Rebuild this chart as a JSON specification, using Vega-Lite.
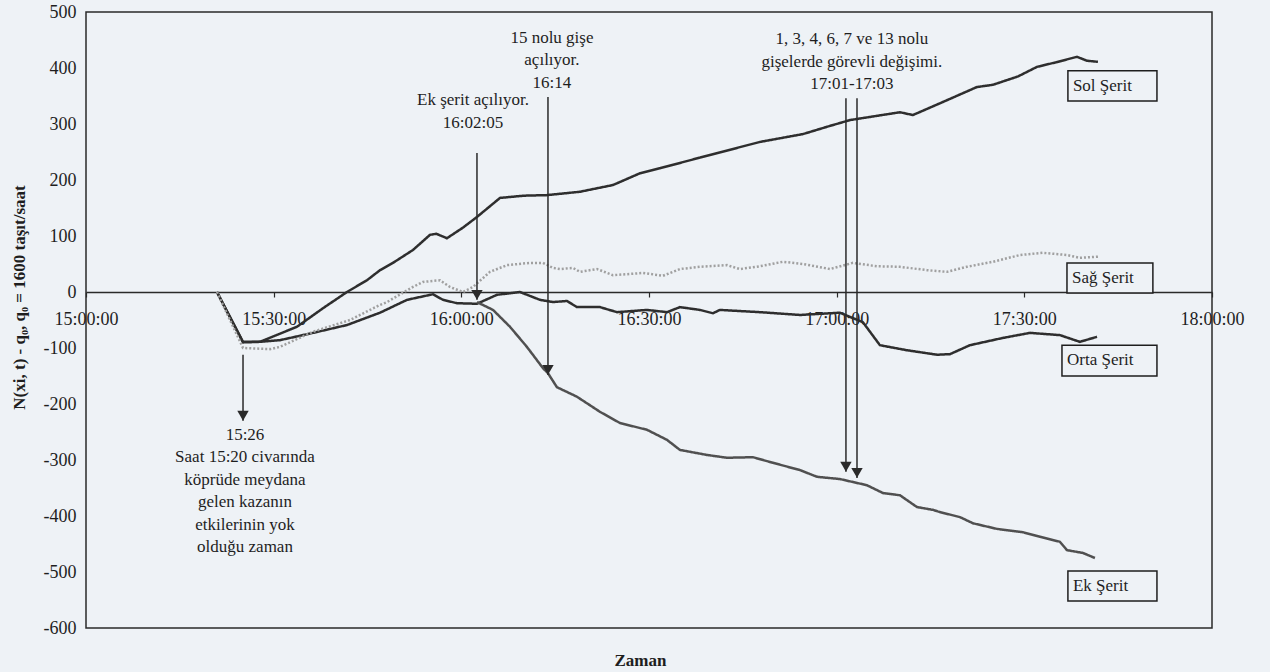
{
  "$schema": "https://vega.github.io/schema/vega-lite/v6.json",
  "width": 1126,
  "height": 616,
  "autosize": "none",
  "padding": {"left": 86, "top": 12, "right": 58, "bottom": 44},
  "background": "#eef2f6",
  "config": {
    "font": "Liberation Serif",
    "view": {"stroke": "#2a2a2a", "strokeWidth": 1.5, "fill": "#eef2f6"}
  },
  "layer": [
    {
      "data": {"format": {"parse": {"zaman": "date"}}, "values": [
      {"seri": "Sol Şerit", "zaman": "2002-01-01T15:20:56", "deger": 0},
      {"seri": "Sol Şerit", "zaman": "2002-01-01T15:25:06", "deger": -90},
      {"seri": "Sol Şerit", "zaman": "2002-01-01T15:27:49", "deger": -89},
      {"seri": "Sol Şerit", "zaman": "2002-01-01T15:30:40", "deger": -76},
      {"seri": "Sol Şerit", "zaman": "2002-01-01T15:33:44", "deger": -62},
      {"seri": "Sol Şerit", "zaman": "2002-01-01T15:37:53", "deger": -29},
      {"seri": "Sol Şerit", "zaman": "2002-01-01T15:41:43", "deger": 0},
      {"seri": "Sol Şerit", "zaman": "2002-01-01T15:44:55", "deger": 21},
      {"seri": "Sol Şerit", "zaman": "2002-01-01T15:47:00", "deger": 39},
      {"seri": "Sol Şerit", "zaman": "2002-01-01T15:49:04", "deger": 52},
      {"seri": "Sol Şerit", "zaman": "2002-01-01T15:52:16", "deger": 75},
      {"seri": "Sol Şerit", "zaman": "2002-01-01T15:54:59", "deger": 102},
      {"seri": "Sol Şerit", "zaman": "2002-01-01T15:56:00", "deger": 104},
      {"seri": "Sol Şerit", "zaman": "2002-01-01T15:57:42", "deger": 96},
      {"seri": "Sol Şerit", "zaman": "2002-01-01T16:00:16", "deger": 115},
      {"seri": "Sol Şerit", "zaman": "2002-01-01T16:02:30", "deger": 134},
      {"seri": "Sol Şerit", "zaman": "2002-01-01T16:06:11", "deger": 168},
      {"seri": "Sol Şerit", "zaman": "2002-01-01T16:10:00", "deger": 172},
      {"seri": "Sol Şerit", "zaman": "2002-01-01T16:13:41", "deger": 173},
      {"seri": "Sol Şerit", "zaman": "2002-01-01T16:18:58", "deger": 179},
      {"seri": "Sol Şerit", "zaman": "2002-01-01T16:24:14", "deger": 191},
      {"seri": "Sol Şerit", "zaman": "2002-01-01T16:28:33", "deger": 212},
      {"seri": "Sol Şerit", "zaman": "2002-01-01T16:31:45", "deger": 221},
      {"seri": "Sol Şerit", "zaman": "2002-01-01T16:38:09", "deger": 240},
      {"seri": "Sol Şerit", "zaman": "2002-01-01T16:47:44", "deger": 268},
      {"seri": "Sol Şerit", "zaman": "2002-01-01T16:54:37", "deger": 282},
      {"seri": "Sol Şerit", "zaman": "2002-01-01T16:58:27", "deger": 295},
      {"seri": "Sol Şerit", "zaman": "2002-01-01T17:02:07", "deger": 307},
      {"seri": "Sol Şerit", "zaman": "2002-01-01T17:10:07", "deger": 321},
      {"seri": "Sol Şerit", "zaman": "2002-01-01T17:12:11", "deger": 316},
      {"seri": "Sol Şerit", "zaman": "2002-01-01T17:16:31", "deger": 337},
      {"seri": "Sol Şerit", "zaman": "2002-01-01T17:22:25", "deger": 366},
      {"seri": "Sol Şerit", "zaman": "2002-01-01T17:24:59", "deger": 370},
      {"seri": "Sol Şerit", "zaman": "2002-01-01T17:29:00", "deger": 385},
      {"seri": "Sol Şerit", "zaman": "2002-01-01T17:32:01", "deger": 402},
      {"seri": "Sol Şerit", "zaman": "2002-01-01T17:35:00", "deger": 410},
      {"seri": "Sol Şerit", "zaman": "2002-01-01T17:38:25", "deger": 420},
      {"seri": "Sol Şerit", "zaman": "2002-01-01T17:40:00", "deger": 413},
      {"seri": "Sol Şerit", "zaman": "2002-01-01T17:41:46", "deger": 411},

      {"seri": "Orta Şerit", "zaman": "2002-01-01T15:20:56", "deger": 0},
      {"seri": "Orta Şerit", "zaman": "2002-01-01T15:25:06", "deger": -89},
      {"seri": "Orta Şerit", "zaman": "2002-01-01T15:27:49", "deger": -89},
      {"seri": "Orta Şerit", "zaman": "2002-01-01T15:31:01", "deger": -86},
      {"seri": "Orta Şerit", "zaman": "2002-01-01T15:36:17", "deger": -73},
      {"seri": "Orta Şerit", "zaman": "2002-01-01T15:41:43", "deger": -59},
      {"seri": "Orta Şerit", "zaman": "2002-01-01T15:47:00", "deger": -37},
      {"seri": "Orta Şerit", "zaman": "2002-01-01T15:51:19", "deger": -14},
      {"seri": "Orta Şerit", "zaman": "2002-01-01T15:55:28", "deger": -4},
      {"seri": "Orta Şerit", "zaman": "2002-01-01T15:57:04", "deger": -14},
      {"seri": "Orta Şerit", "zaman": "2002-01-01T15:59:18", "deger": -20},
      {"seri": "Orta Şerit", "zaman": "2002-01-01T16:02:30", "deger": -21},
      {"seri": "Orta Şerit", "zaman": "2002-01-01T16:05:42", "deger": -5},
      {"seri": "Orta Şerit", "zaman": "2002-01-01T16:09:22", "deger": 0},
      {"seri": "Orta Şerit", "zaman": "2002-01-01T16:12:34", "deger": -14},
      {"seri": "Orta Şerit", "zaman": "2002-01-01T16:14:39", "deger": -18},
      {"seri": "Orta Şerit", "zaman": "2002-01-01T16:16:53", "deger": -16},
      {"seri": "Orta Şerit", "zaman": "2002-01-01T16:18:29", "deger": -27},
      {"seri": "Orta Şerit", "zaman": "2002-01-01T16:22:10", "deger": -27},
      {"seri": "Orta Şerit", "zaman": "2002-01-01T16:24:53", "deger": -36},
      {"seri": "Orta Şerit", "zaman": "2002-01-01T16:29:40", "deger": -32},
      {"seri": "Orta Şerit", "zaman": "2002-01-01T16:32:52", "deger": -36},
      {"seri": "Orta Şerit", "zaman": "2002-01-01T16:34:57", "deger": -27},
      {"seri": "Orta Şerit", "zaman": "2002-01-01T16:38:09", "deger": -32},
      {"seri": "Orta Şerit", "zaman": "2002-01-01T16:40:13", "deger": -38},
      {"seri": "Orta Şerit", "zaman": "2002-01-01T16:41:20", "deger": -32},
      {"seri": "Orta Şerit", "zaman": "2002-01-01T16:47:44", "deger": -36},
      {"seri": "Orta Şerit", "zaman": "2002-01-01T16:54:08", "deger": -41},
      {"seri": "Orta Şerit", "zaman": "2002-01-01T17:00:31", "deger": -37},
      {"seri": "Orta Şerit", "zaman": "2002-01-01T17:04:12", "deger": -54},
      {"seri": "Orta Şerit", "zaman": "2002-01-01T17:06:55", "deger": -95},
      {"seri": "Orta Şerit", "zaman": "2002-01-01T17:11:14", "deger": -104},
      {"seri": "Orta Şerit", "zaman": "2002-01-01T17:16:02", "deger": -112},
      {"seri": "Orta Şerit", "zaman": "2002-01-01T17:18:07", "deger": -111},
      {"seri": "Orta Şerit", "zaman": "2002-01-01T17:21:18", "deger": -95},
      {"seri": "Orta Şerit", "zaman": "2002-01-01T17:26:35", "deger": -82},
      {"seri": "Orta Şerit", "zaman": "2002-01-01T17:30:54", "deger": -73},
      {"seri": "Orta Şerit", "zaman": "2002-01-01T17:35:41", "deger": -77},
      {"seri": "Orta Şerit", "zaman": "2002-01-01T17:38:53", "deger": -89},
      {"seri": "Orta Şerit", "zaman": "2002-01-01T17:41:37", "deger": -80},

      {"seri": "Sağ Şerit", "zaman": "2002-01-01T15:20:56", "deger": 0},
      {"seri": "Sağ Şerit", "zaman": "2002-01-01T15:25:06", "deger": -100},
      {"seri": "Sağ Şerit", "zaman": "2002-01-01T15:29:25", "deger": -102},
      {"seri": "Sağ Şerit", "zaman": "2002-01-01T15:31:01", "deger": -98},
      {"seri": "Sağ Şerit", "zaman": "2002-01-01T15:36:17", "deger": -71},
      {"seri": "Sağ Şerit", "zaman": "2002-01-01T15:42:12", "deger": -50},
      {"seri": "Sağ Şerit", "zaman": "2002-01-01T15:47:00", "deger": -23},
      {"seri": "Sağ Şerit", "zaman": "2002-01-01T15:48:07", "deger": -18},
      {"seri": "Sağ Şerit", "zaman": "2002-01-01T15:52:16", "deger": 9},
      {"seri": "Sağ Şerit", "zaman": "2002-01-01T15:53:52", "deger": 18},
      {"seri": "Sağ Şerit", "zaman": "2002-01-01T15:56:35", "deger": 21},
      {"seri": "Sağ Şerit", "zaman": "2002-01-01T15:58:11", "deger": 9},
      {"seri": "Sağ Şerit", "zaman": "2002-01-01T16:00:16", "deger": 0},
      {"seri": "Sağ Şerit", "zaman": "2002-01-01T16:01:52", "deger": 9},
      {"seri": "Sağ Şerit", "zaman": "2002-01-01T16:04:35", "deger": 36},
      {"seri": "Sağ Şerit", "zaman": "2002-01-01T16:07:18", "deger": 48},
      {"seri": "Sağ Şerit", "zaman": "2002-01-01T16:10:58", "deger": 52},
      {"seri": "Sağ Şerit", "zaman": "2002-01-01T16:13:03", "deger": 52},
      {"seri": "Sağ Şerit", "zaman": "2002-01-01T16:14:39", "deger": 43},
      {"seri": "Sağ Şerit", "zaman": "2002-01-01T16:15:46", "deger": 41},
      {"seri": "Sağ Şerit", "zaman": "2002-01-01T16:17:51", "deger": 43},
      {"seri": "Sağ Şerit", "zaman": "2002-01-01T16:18:58", "deger": 36},
      {"seri": "Sağ Şerit", "zaman": "2002-01-01T16:21:41", "deger": 41},
      {"seri": "Sağ Şerit", "zaman": "2002-01-01T16:24:14", "deger": 30},
      {"seri": "Sağ Şerit", "zaman": "2002-01-01T16:29:02", "deger": 34},
      {"seri": "Sağ Şerit", "zaman": "2002-01-01T16:32:14", "deger": 29},
      {"seri": "Sağ Şerit", "zaman": "2002-01-01T16:34:57", "deger": 41},
      {"seri": "Sağ Şerit", "zaman": "2002-01-01T16:38:09", "deger": 45},
      {"seri": "Sağ Şerit", "zaman": "2002-01-01T16:42:28", "deger": 48},
      {"seri": "Sağ Şerit", "zaman": "2002-01-01T16:44:32", "deger": 41},
      {"seri": "Sağ Şerit", "zaman": "2002-01-01T16:47:44", "deger": 46},
      {"seri": "Sağ Şerit", "zaman": "2002-01-01T16:51:25", "deger": 54},
      {"seri": "Sağ Şerit", "zaman": "2002-01-01T16:54:37", "deger": 50},
      {"seri": "Sağ Şerit", "zaman": "2002-01-01T16:58:56", "deger": 41},
      {"seri": "Sağ Şerit", "zaman": "2002-01-01T17:02:36", "deger": 52},
      {"seri": "Sağ Şerit", "zaman": "2002-01-01T17:06:26", "deger": 46},
      {"seri": "Sağ Şerit", "zaman": "2002-01-01T17:10:07", "deger": 45},
      {"seri": "Sağ Şerit", "zaman": "2002-01-01T17:14:26", "deger": 39},
      {"seri": "Sağ Şerit", "zaman": "2002-01-01T17:17:38", "deger": 36},
      {"seri": "Sağ Şerit", "zaman": "2002-01-01T17:20:49", "deger": 45},
      {"seri": "Sağ Şerit", "zaman": "2002-01-01T17:24:59", "deger": 54},
      {"seri": "Sağ Şerit", "zaman": "2002-01-01T17:29:18", "deger": 66},
      {"seri": "Sağ Şerit", "zaman": "2002-01-01T17:32:58", "deger": 70},
      {"seri": "Sağ Şerit", "zaman": "2002-01-01T17:36:49", "deger": 66},
      {"seri": "Sağ Şerit", "zaman": "2002-01-01T17:38:53", "deger": 61},
      {"seri": "Sağ Şerit", "zaman": "2002-01-01T17:41:46", "deger": 63},

      {"seri": "Ek Şerit", "zaman": "2002-01-01T16:02:30", "deger": -18},
      {"seri": "Ek Şerit", "zaman": "2002-01-01T16:05:04", "deger": -32},
      {"seri": "Ek Şerit", "zaman": "2002-01-01T16:07:46", "deger": -62},
      {"seri": "Ek Şerit", "zaman": "2002-01-01T16:10:29", "deger": -98},
      {"seri": "Ek Şerit", "zaman": "2002-01-01T16:13:03", "deger": -136},
      {"seri": "Ek Şerit", "zaman": "2002-01-01T16:13:51", "deger": -145},
      {"seri": "Ek Şerit", "zaman": "2002-01-01T16:15:17", "deger": -170},
      {"seri": "Ek Şerit", "zaman": "2002-01-01T16:18:29", "deger": -187},
      {"seri": "Ek Şerit", "zaman": "2002-01-01T16:22:10", "deger": -214},
      {"seri": "Ek Şerit", "zaman": "2002-01-01T16:25:22", "deger": -234},
      {"seri": "Ek Şerit", "zaman": "2002-01-01T16:29:40", "deger": -246},
      {"seri": "Ek Şerit", "zaman": "2002-01-01T16:32:52", "deger": -264},
      {"seri": "Ek Şerit", "zaman": "2002-01-01T16:34:57", "deger": -282},
      {"seri": "Ek Şerit", "zaman": "2002-01-01T16:39:16", "deger": -291},
      {"seri": "Ek Şerit", "zaman": "2002-01-01T16:42:28", "deger": -296},
      {"seri": "Ek Şerit", "zaman": "2002-01-01T16:46:37", "deger": -295},
      {"seri": "Ek Şerit", "zaman": "2002-01-01T16:49:49", "deger": -305},
      {"seri": "Ek Şerit", "zaman": "2002-01-01T16:54:08", "deger": -318},
      {"seri": "Ek Şerit", "zaman": "2002-01-01T16:56:51", "deger": -330},
      {"seri": "Ek Şerit", "zaman": "2002-01-01T17:00:31", "deger": -334},
      {"seri": "Ek Şerit", "zaman": "2002-01-01T17:04:50", "deger": -345},
      {"seri": "Ek Şerit", "zaman": "2002-01-01T17:07:24", "deger": -359},
      {"seri": "Ek Şerit", "zaman": "2002-01-01T17:10:07", "deger": -363},
      {"seri": "Ek Şerit", "zaman": "2002-01-01T17:12:50", "deger": -384},
      {"seri": "Ek Şerit", "zaman": "2002-01-01T17:15:23", "deger": -389},
      {"seri": "Ek Şerit", "zaman": "2002-01-01T17:16:31", "deger": -393},
      {"seri": "Ek Şerit", "zaman": "2002-01-01T17:19:43", "deger": -402},
      {"seri": "Ek Şerit", "zaman": "2002-01-01T17:21:47", "deger": -413},
      {"seri": "Ek Şerit", "zaman": "2002-01-01T17:25:37", "deger": -423},
      {"seri": "Ek Şerit", "zaman": "2002-01-01T17:29:47", "deger": -429},
      {"seri": "Ek Şerit", "zaman": "2002-01-01T17:32:29", "deger": -437},
      {"seri": "Ek Şerit", "zaman": "2002-01-01T17:35:41", "deger": -446},
      {"seri": "Ek Şerit", "zaman": "2002-01-01T17:36:49", "deger": -461},
      {"seri": "Ek Şerit", "zaman": "2002-01-01T17:39:22", "deger": -466},
      {"seri": "Ek Şerit", "zaman": "2002-01-01T17:41:17", "deger": -475}
      ]},
      "mark": {"type": "line", "interpolate": "linear"},
      "encoding": {
        "x": {
          "field": "zaman", "type": "temporal", "title": "Zaman",
          "scale": {"domain": [{"year": 2002, "month": 1, "date": 1, "hours": 15}, {"year": 2002, "month": 1, "date": 1, "hours": 18}], "nice": false},
          "axis": {
            "values": [
              {"year": 2002, "month": 1, "date": 1, "hours": 15, "minutes": 0},
              {"year": 2002, "month": 1, "date": 1, "hours": 15, "minutes": 30},
              {"year": 2002, "month": 1, "date": 1, "hours": 16, "minutes": 0},
              {"year": 2002, "month": 1, "date": 1, "hours": 16, "minutes": 30},
              {"year": 2002, "month": 1, "date": 1, "hours": 17, "minutes": 0},
              {"year": 2002, "month": 1, "date": 1, "hours": 17, "minutes": 30},
              {"year": 2002, "month": 1, "date": 1, "hours": 18, "minutes": 0}
            ],
            "format": "%H:%M:%S",
            "offset": -336,
            "grid": false,
            "domainColor": "#2a2a2a", "domainWidth": 1.5,
            "tickColor": "#2a2a2a", "tickSize": 5, "tickWidth": 1.2,
            "labelFont": "Liberation Serif", "labelFontSize": 18, "labelColor": "#1e1e1e",
            "labelPadding": 13, "labelFlush": false, "labelOverlap": false,
            "titleFont": "Liberation Serif", "titleFontSize": 17, "titleFontWeight": "bold", "titleColor": "#1e1e1e",
            "titleY": 368, "titleX": 554, "titleBaseline": "middle"
          }
        },
        "y": {
          "field": "deger", "type": "quantitative",
          "title": "N(xi, t) - q₀, q₀ = 1600 taşıt/saat",
          "scale": {"domain": [-600, 500], "nice": false, "zero": false},
          "axis": {
            "values": [-600, -500, -400, -300, -200, -100, 0, 100, 200, 300, 400, 500],
            "labelExpr": "toString(datum.value)",
            "grid": false, "domain": false, "ticks": false,
            "labelFont": "Liberation Serif", "labelFontSize": 18, "labelColor": "#1e1e1e", "labelPadding": 10,
            "titleFont": "Liberation Serif", "titleFontSize": 17, "titleFontWeight": "bold", "titleColor": "#1e1e1e",
            "titleX": -67, "titleY": 285, "titleBaseline": "middle", "titleAlign": "center"
          }
        },
        "color": {"field": "seri", "type": "nominal", "legend": null,
          "scale": {"domain": ["Sol Şerit", "Orta Şerit", "Sağ Şerit", "Ek Şerit"], "range": ["#2e2e2e", "#2e2e2e", "#a0a0a0", "#505050"]}},
        "strokeWidth": {"field": "seri", "type": "nominal", "legend": null,
          "scale": {"domain": ["Sol Şerit", "Orta Şerit", "Sağ Şerit", "Ek Şerit"], "range": [2.5, 2.5, 1, 1.2]}},
        "strokeDash": {"field": "seri", "type": "nominal", "legend": null,
          "scale": {"domain": ["Sol Şerit", "Orta Şerit", "Sağ Şerit", "Ek Şerit"], "range": [[1, 0], [1, 0], [2, 2], [1, 0]]}}
      }
    },
    {
      "data": {"format": {"parse": {"zaman": "date"}}, "values": [
        {"zaman": "2002-01-01T15:25:06", "ust": -112, "alt": -230},
        {"zaman": "2002-01-01T16:02:30", "ust": 248, "alt": -14},
        {"zaman": "2002-01-01T16:13:51", "ust": 348, "alt": -148},
        {"zaman": "2002-01-01T17:01:29", "ust": 346, "alt": -321},
        {"zaman": "2002-01-01T17:03:15", "ust": 346, "alt": -332}
      ]},
      "mark": {"type": "rule", "color": "#2a2a2a", "strokeWidth": 1.5},
      "encoding": {
        "x": {"field": "zaman", "type": "temporal"},
        "y": {"field": "ust", "type": "quantitative"},
        "y2": {"field": "alt"}
      }
    },
    {
      "data": {"format": {"parse": {"zaman": "date"}}, "values": [
        {"zaman": "2002-01-01T15:25:06", "uc": -230},
        {"zaman": "2002-01-01T16:02:30", "uc": -14},
        {"zaman": "2002-01-01T16:13:51", "uc": -148},
        {"zaman": "2002-01-01T17:01:29", "uc": -321},
        {"zaman": "2002-01-01T17:03:15", "uc": -332}
      ]},
      "mark": {"type": "point", "shape": "triangle-down", "filled": true, "color": "#2a2a2a", "opacity": 1, "size": 130, "yOffset": -5},
      "encoding": {
        "x": {"field": "zaman", "type": "temporal"},
        "y": {"field": "uc", "type": "quantitative"}
      }
    },
    {
      "data": {"format": {"parse": {"zaman": "date"}}, "values": [
        {"zaman": "2002-01-01T15:25:25", "deger": -241, "metin": "15:26\nSaat 15:20 civarında\nköprüde meydana\ngelen kazanın\netkilerinin yok\nolduğu zaman"},
        {"zaman": "2002-01-01T16:01:52", "deger": 357, "metin": "Ek şerit açılıyor.\n16:02:05"},
        {"zaman": "2002-01-01T16:14:29", "deger": 468, "metin": "15 nolu gişe\naçılıyor.\n16:14"},
        {"zaman": "2002-01-01T17:02:26", "deger": 466, "metin": "1, 3, 4, 6, 7 ve 13 nolu\ngişelerde görevli değişimi.\n17:01-17:03"}
      ]},
      "mark": {"type": "text", "align": "center", "baseline": "top", "lineBreak": "\n", "lineHeight": 22.5, "font": "Liberation Serif", "fontSize": 17, "color": "#1e1e1e"},
      "encoding": {
        "x": {"field": "zaman", "type": "temporal"},
        "y": {"field": "deger", "type": "quantitative"},
        "text": {"field": "metin", "type": "nominal"}
      }
    },
    {
      "data": {"format": {"parse": {"t1": "date", "t2": "date"}}, "values": [
        {"etiket": "Sol Şerit", "t1": "2002-01-01T17:36:58", "t2": "2002-01-01T17:51:12", "y1": 395, "y2": 341},
        {"etiket": "Sağ Şerit", "t1": "2002-01-01T17:36:49", "t2": "2002-01-01T17:50:33", "y1": 52, "y2": -2},
        {"etiket": "Orta Şerit", "t1": "2002-01-01T17:36:01", "t2": "2002-01-01T17:51:12", "y1": -95, "y2": -150},
        {"etiket": "Ek Şerit", "t1": "2002-01-01T17:36:58", "t2": "2002-01-01T17:51:12", "y1": -498, "y2": -552}
      ]},
      "mark": {"type": "rect", "fill": "#eef2f6", "stroke": "#1e1e1e", "strokeWidth": 1.5},
      "encoding": {
        "x": {"field": "t1", "type": "temporal"},
        "x2": {"field": "t2"},
        "y": {"field": "y1", "type": "quantitative"},
        "y2": {"field": "y2"}
      }
    },
    {
      "data": {"format": {"parse": {"tx": "date"}}, "values": [
        {"etiket": "Sol Şerit", "tx": "2002-01-01T17:37:46", "ty": 368},
        {"etiket": "Sağ Şerit", "tx": "2002-01-01T17:37:37", "ty": 25},
        {"etiket": "Orta Şerit", "tx": "2002-01-01T17:36:49", "ty": -122},
        {"etiket": "Ek Şerit", "tx": "2002-01-01T17:37:46", "ty": -525}
      ]},
      "mark": {"type": "text", "align": "left", "baseline": "middle", "font": "Liberation Serif", "fontSize": 17, "color": "#1e1e1e"},
      "encoding": {
        "x": {"field": "tx", "type": "temporal"},
        "y": {"field": "ty", "type": "quantitative"},
        "text": {"field": "etiket", "type": "nominal"}
      }
    }
  ]
}
